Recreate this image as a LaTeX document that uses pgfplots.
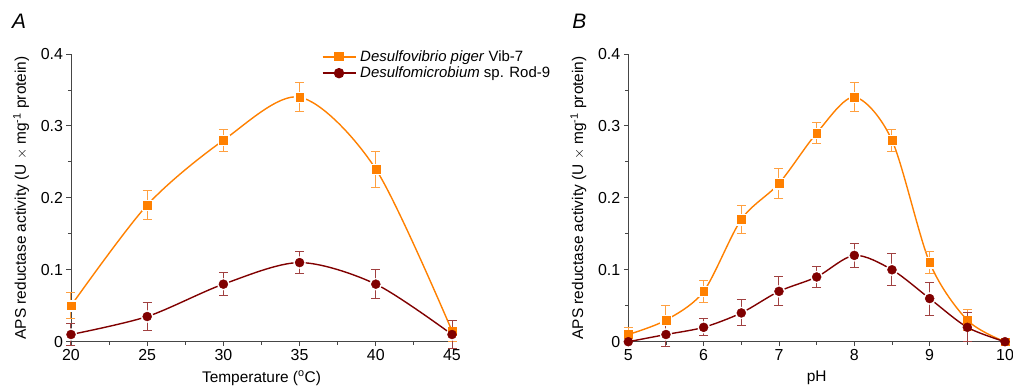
\documentclass[border=0pt]{standalone}
\usepackage{pgfplots}
\pgfplotsset{compat=1.18}
\usepackage{fontspec}
\setmainfont{Liberation Sans}
\definecolor{cor}{RGB}{255,128,0}
\definecolor{cdr}{RGB}{128,0,0}
\definecolor{cax}{RGB}{70,70,70}

\pgfplotsset{
  myaxis/.style={
    scale only axis,
    height=287.7bp,
    axis lines*=left,
    axis line style={cax, line width=0.9bp},
    tick style={cax, line width=0.9bp},
    tick align=outside,
    major tick length=4.5bp,
    minor tick length=3bp,
    minor x tick num=1,
    minor y tick num=1,
    ymin=0, ymax=0.4,
    ytick={0,0.1,0.2,0.3,0.4},
    yticklabels={0,0.1,0.2,0.3,0.4},
    clip=false,
    font=\fontsize{15.5}{18}\selectfont,
    tick label style={font=\fontsize{16}{18}\selectfont},
    label style={font=\fontsize{15.5}{18}\selectfont},
    /pgf/number format/assume math mode=true,
    ylabel={APS reductase activity (U $\times$ mg\textsuperscript{-1} protein)},
    ylabel style={yshift=5bp},
    xlabel style={yshift=-3bp},
  },
  lineO/.style={cor, line width=1.4bp, smooth, no marks, forget plot},
  lineR/.style={cdr, line width=1.4bp, smooth, no marks, forget plot},
  haloS/.style={only marks, mark=square*, mark size=5.3bp, white, forget plot},
  haloC/.style={only marks, mark=*, mark size=5.9bp, white, forget plot},
  ptsO/.style={only marks, mark=square*, mark size=3.9bp, cor, forget plot,
    error bars/.cd, y dir=both, y explicit,
    error bar style={cor!75!white, line width=1bp},
    error mark options={rotate=90, mark size=4.5bp, cor!75!white, line width=1bp}},
  ptsR/.style={only marks, mark=*, mark size=4.5bp, cdr, forget plot,
    error bars/.cd, y dir=both, y explicit,
    error bar style={cdr!75!white, line width=1bp},
    error mark options={rotate=90, mark size=4.5bp, cdr!75!white, line width=1bp}},
}

\begin{document}
\begin{tikzpicture}[x=1bp,y=1bp]
\begin{axis}[myaxis,
  at={(0,0)}, anchor=origin,
  width=381bp,
  xmin=20, xmax=45,
  xtick={20,25,30,35,40,45},
  xlabel={Temperature ($^{\mathrm{o}}$C)},
  legend style={draw=none, fill=none, at={(0.65,1.026)}, anchor=north west,
    font=\fontsize{15}{18}\selectfont, row sep=0bp,
    /tikz/every odd column/.append style={column sep=2bp}},
  legend cell align=left,
  legend image code/.code={
    \draw[#1, mark=none] (0bp,0bp) -- (33bp,0bp);
    \draw[#1, only marks] plot coordinates {(16.5bp,0bp)};
  },
]
\addlegendimage{cor, line width=1.4bp, mark=square*, mark size=3.9bp}
\addlegendentry{\textit{Desulfovibrio piger} Vib-7}
\addlegendimage{cdr, line width=1.4bp, mark=*, mark size=4.5bp}
\addlegendentry{\textit{Desulfomicrobium} sp. Rod-9}

\addplot[lineO] coordinates {(20,0.05) (25,0.19) (30,0.28) (35,0.34) (40,0.24) (45,0.015)};
\addplot[lineR] coordinates {(20,0.01) (25,0.035) (30,0.08) (35,0.11) (40,0.08) (45,0.01)};
\addplot[haloS] coordinates {(20,0.05) (25,0.19) (30,0.28) (35,0.34) (40,0.24)};
\addplot[haloC] coordinates {(20,0.01) (25,0.035) (30,0.08) (35,0.11) (40,0.08) (45,0.01)};
\addplot[ptsO] coordinates {
  (20,0.05) +- (0,0.018)
  (25,0.19) +- (0,0.02)
  (30,0.28) +- (0,0.015)
  (35,0.34) +- (0,0.02)
  (40,0.24) +- (0,0.025)
  (45,0.015) +- (0,0.015)
};
\addplot[ptsR] coordinates {
  (20,0.01) +- (0,0.015)
  (25,0.035) +- (0,0.019)
  (30,0.08) +- (0,0.016)
  (35,0.11) +- (0,0.015)
  (40,0.08) +- (0,0.02)
  (45,0.01) +- (0,0.02)
};
\node[anchor=north west, inner sep=0pt, font=\itshape\fontsize{21}{21}\selectfont]
  at (axis description cs:-0.155,1.14) {A};
\end{axis}

\begin{axis}[myaxis,
  at={(557.3bp,0)}, anchor=origin,
  width=376.7bp,
  xmin=5, xmax=10,
  xtick={5,6,7,8,9,10},
  xlabel={pH},
]
\addplot[lineO] coordinates {(5,0.01) (5.5,0.03) (6,0.07) (6.5,0.17) (7,0.22) (7.5,0.29) (8,0.34) (8.5,0.28) (9,0.11) (9.5,0.03) (10,0)};
\addplot[lineR] coordinates {(5,0) (5.5,0.01) (6,0.02) (6.5,0.04) (7,0.07) (7.5,0.09) (8,0.12) (8.5,0.1) (9,0.06) (9.5,0.02) (10,0)};
\addplot[haloS] coordinates {(5.5,0.03) (6,0.07) (6.5,0.17) (7,0.22) (7.5,0.29) (8,0.34) (8.5,0.28) (9,0.11)};
\addplot[haloC] coordinates {(5.5,0.01) (6,0.02) (6.5,0.04) (7,0.07) (7.5,0.09) (8,0.12) (8.5,0.1) (9,0.06)};
\addplot[ptsO] coordinates {
  (5,0.01) +- (0,0.01)
  (5.5,0.03) +- (0,0.021)
  (6,0.07) +- (0,0.015)
  (6.5,0.17) +- (0,0.019)
  (7,0.22) +- (0,0.021)
  (7.5,0.29) +- (0,0.015)
  (8,0.34) +- (0,0.02)
  (8.5,0.28) +- (0,0.015)
  (9,0.11) +- (0,0.015)
  (9.5,0.03) +- (0,0.015)
  (10,0) +- (0,0)
};
\addplot[ptsR] coordinates {
  (5,0) +- (0,0)
  (5.5,0.01) +- (0,0.017)
  (6,0.02) +- (0,0.012)
  (6.5,0.04) +- (0,0.018)
  (7,0.07) +- (0,0.02)
  (7.5,0.09) +- (0,0.015)
  (8,0.12) +- (0,0.017)
  (8.5,0.1) +- (0,0.022)
  (9,0.06) +- (0,0.023)
  (9.5,0.02) +- (0,0.02)
  (10,0) +- (0,0)
};
\node[anchor=north west, inner sep=0pt, font=\itshape\fontsize{21}{21}\selectfont]
  at (axis description cs:-0.149,1.14) {B};
\end{axis}
\pgfresetboundingbox
\path[use as bounding box] (-71bp,-50.3bp) rectangle (942bp,341.7bp);
\end{tikzpicture}
\end{document}
